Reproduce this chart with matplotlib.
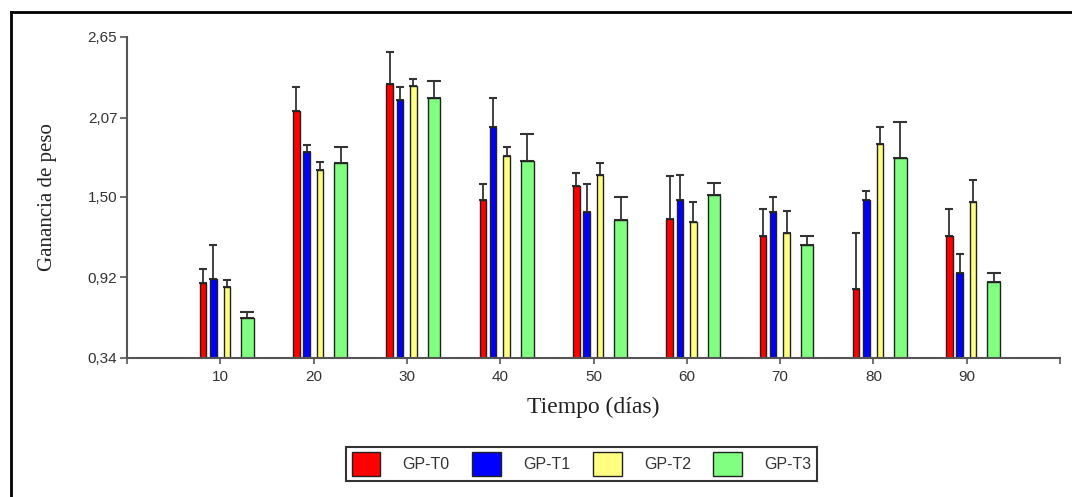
import numpy as np
import matplotlib
matplotlib.use("Agg")
import matplotlib.pyplot as plt
from matplotlib.lines import Line2D

# data
dias = [10, 20, 30, 40, 50, 60, 70, 80, 90]
series = ['GP-T0', 'GP-T1', 'GP-T2', 'GP-T3']
gp_t0 = [0.88, 2.12, 2.31, 1.48, 1.58, 1.34, 1.22, 0.84, 1.22]
gp_t1 = [0.91, 1.82, 2.20, 2.00, 1.39, 1.48, 1.39, 1.48, 0.95]
gp_t2 = [0.85, 1.69, 2.30, 1.79, 1.66, 1.32, 1.24, 1.88, 1.46]
gp_t3 = [0.63, 1.74, 2.21, 1.76, 1.33, 1.51, 1.15, 1.78, 0.89]
err_t0 = [0.10, 0.17, 0.23, 0.11, 0.09, 0.31, 0.19, 0.40, 0.19]
err_t1 = [0.24, 0.05, 0.09, 0.21, 0.20, 0.18, 0.11, 0.06, 0.14]
err_t2 = [0.05, 0.06, 0.05, 0.07, 0.08, 0.14, 0.16, 0.12, 0.16]
err_t3 = [0.04, 0.12, 0.12, 0.19, 0.17, 0.09, 0.07, 0.26, 0.06]
yticks = [0.34, 0.92, 1.50, 2.07, 2.65]
ytick_labels = ['0,34', '0,92', '1,50', '2,07', '2,65']

values = [gp_t0, gp_t1, gp_t2, gp_t3]
errors = [err_t0, err_t1, err_t2, err_t3]
colors = ['#ff0000', '#0000ff', '#ffff80', '#80ff80']
offsets = [-1.85, -0.75, 0.7, 2.9]
widths = [0.7, 0.7, 0.7, 1.35]
caps = [2.8, 2.8, 2.8, 5.2]

fig = plt.figure(figsize=(10.72, 4.97), dpi=100)
ax = fig.add_axes([0.1185, 0.2797, 0.8703, 0.6459])

x = np.array(dias, dtype=float)
handles = []
for vals, errs, c, off, w, cs, name in zip(values, errors, colors, offsets, widths, caps, series):
    b = ax.bar(x + off, np.array(vals) - 0.34, width=w, bottom=0.34, color=c,
               edgecolor='#222222', linewidth=1.0, label=name, zorder=2)
    ax.errorbar(x + off, vals, yerr=[np.zeros(len(errs)), errs], fmt='none',
                ecolor='#333333', elinewidth=1.3, capsize=cs, capthick=1.5, zorder=1)
    handles.append(b)

ax.set_xlim(0, 100)
ax.set_ylim(0.34, 2.65)
ax.set_xticks(dias)
ax.set_xticks([0, 100], minor=True)
ax.set_yticks(yticks)
ax.set_yticklabels(ytick_labels)
for s in ['top', 'right']:
    ax.spines[s].set_visible(False)
for s in ['left', 'bottom']:
    ax.spines[s].set_color('#555555')
    ax.spines[s].set_linewidth(1.5)
ax.tick_params(axis='both', which='both', colors='#555555', labelcolor='#333333',
               labelsize=11, width=1.2)
ax.tick_params(axis='x', which='both', length=4, pad=5)
ax.tick_params(axis='y', length=5, pad=2)
for lab in ax.get_xticklabels() + ax.get_yticklabels():
    lab.set_family('Liberation Sans')
ax.patch.set_visible(False)

ax.set_xlabel('Tiempo (días)', family='Liberation Serif', fontsize=17, labelpad=9, color='#222222')
ax.set_ylabel('Ganancia de peso', family='Liberation Serif', fontsize=15, labelpad=22, color='#222222')

leg = fig.legend(handles=handles, labels=series, loc='center', bbox_to_anchor=(0.5425, 0.0664),
                 ncol=4, fancybox=False, edgecolor='#333333', framealpha=1,
                 prop={'family': 'Liberation Sans', 'size': 11.5},
                 handlelength=1.8, handleheight=1.9, handletextpad=1.4,
                 columnspacing=1.4, borderpad=0.35)
leg.get_frame().set_linewidth(1.5)
for t in leg.get_texts():
    t.set_color('#333333')

# border of the cropped figure
fig.add_artist(Line2D([11 / 1072, 11 / 1072], [0, 1 - 12 / 497], transform=fig.transFigure,
                      color='black', lw=2))
fig.add_artist(Line2D([11 / 1072, 1], [1 - 12 / 497, 1 - 12 / 497], transform=fig.transFigure,
                      color='black', lw=2))

fig.savefig('out.png', dpi=100)
